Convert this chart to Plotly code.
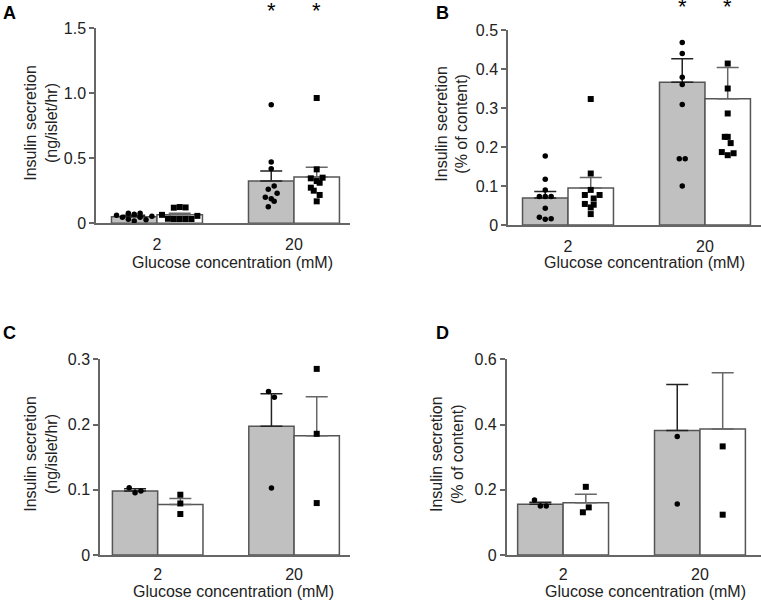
import plotly.graph_objects as go

W, H = 761, 601
FONT = "Liberation Sans, Arial, sans-serif"

categories = ["2", "20"]

# ---- Panel A: insulin secretion (ng/islet/hr)
a_bar_grey = [0.051, 0.325]
a_sem_grey = [0.010, 0.077]
a_bar_white = [0.066, 0.356]
a_sem_white = [0.012, 0.075]
a_pts_grey_2 = [0.062, 0.046, 0.077, 0.031, 0.070, 0.018, 0.077, 0.046, 0.028, 0.055]
a_pts_grey_20 = [0.912, 0.472, 0.420, 0.287, 0.262, 0.231, 0.200, 0.189, 0.169, 0.128]
a_pts_white_2 = [0.120, 0.125, 0.122, 0.065, 0.057, 0.035, 0.033, 0.033, 0.033, 0.033]
a_pts_white_20 = [0.964, 0.415, 0.346, 0.351, 0.325, 0.312, 0.274, 0.251, 0.218, 0.169]
a_jit_grey_2 = [-6, -4, -2, -2, 0, 0, 2, 2, 4, 6]
a_jit_grey_20 = [0, 0, 0, 1, -1, 2, -2, 0, 1, -1]
a_jit_white_2 = [-2, 0, 2, -6, 6, -4, -2, 0, 2, 4]
a_jit_white_20 = [0, 0, -2, 2, 0, 1, -2, -1, 1, 0]

# ---- Panel B: insulin secretion (% of content)
b_bar_grey = [0.069, 0.366]
b_sem_grey = [0.017, 0.060]
b_bar_white = [0.095, 0.324]
b_sem_white = [0.027, 0.080]
b_pts_grey_2 = [0.177, 0.117, 0.090, 0.073, 0.073, 0.073, 0.043, 0.020, 0.015, 0.016]
b_pts_grey_20 = [0.468, 0.440, 0.379, 0.360, 0.309, 0.170, 0.170, 0.100]
b_pts_white_2 = [0.323, 0.132, 0.090, 0.077, 0.077, 0.068, 0.054, 0.052, 0.045, 0.028]
b_pts_white_20 = [0.414, 0.350, 0.286, 0.226, 0.226, 0.210, 0.187, 0.179, 0.184]
b_jit_grey_2 = [0, 0, 0, -2, 0, 2, 0, -2, 0, 2]
b_jit_grey_20 = [0, 0, 0, 0, 0, -1, 1, 0]
b_jit_white_2 = [0, 0, 0, -2, 3, 1, -2, 1, 0, 0]
b_jit_white_20 = [0, 0, 0, -1, 0, 1, -2, 0, 2]

# ---- Panel C: insulin secretion (ng/islet/hr)
c_bar_grey = [0.098, 0.1975]
c_sem_grey = [0.0035, 0.0495]
c_bar_white = [0.0776, 0.1827]
c_sem_white = [0.0092, 0.0597]
c_pts_grey_2 = [0.103, 0.0954, 0.098]
c_pts_grey_20 = [0.2507, 0.242, 0.1026]
c_pts_white_2 = [0.0924, 0.079, 0.0628]
c_pts_white_20 = [0.2853, 0.1858, 0.0796]
c_jit_grey_2 = [-2, 0, 2]
c_jit_grey_20 = [-1, 1, 0]
c_jit_white_2 = [0, 0, 0]
c_jit_white_20 = [0, 0, 0]

# ---- Panel D: insulin secretion (% of content)
d_bar_grey = [0.1554, 0.382]
d_sem_grey = [0.0061, 0.141]
d_bar_white = [0.1604, 0.386]
d_sem_white = [0.0256, 0.173]
d_pts_grey_2 = [0.1686, 0.150, 0.150]
d_pts_grey_20 = [0.363, 0.156]
d_pts_white_2 = [0.209, 0.146, 0.131]
d_pts_white_20 = [0.333, 0.1236]
d_jit_grey_2 = [-2, 0, 2]
d_jit_grey_20 = [0, 0]
d_jit_white_2 = [0, 1, -1]
d_jit_white_20 = [0, 0]

y_title_ng = "Insulin secretion<br>(ng/islet/hr)"
y_title_pct = "Insulin secretion<br>(% of content)"
x_title = "Glucose concentration (mM)"

a_ticks = [0, 0.5, 1.0, 1.5]
a_ticktext = ["0", "0.5", "1.0", "1.5"]
b_ticks = [0, 0.1, 0.2, 0.3, 0.4, 0.5]
b_ticktext = ["0", "0.1", "0.2", "0.3", "0.4", "0.5"]
c_ticks = [0, 0.1, 0.2, 0.3]
c_ticktext = ["0", "0.1", "0.2", "0.3"]
d_ticks = [0, 0.2, 0.4, 0.6]
d_ticktext = ["0", "0.2", "0.4", "0.6"]

# ---------------------------------------------------------------
BAR_W = 0.332
HALF = BAR_W / 2
JSTEP = 0.0215
GREY = "#c0c0c0"
EDGE = "#555555"

fig = go.Figure()

panels = [
    dict(ax="", bar_g=a_bar_grey, sem_g=a_sem_grey, bar_w=a_bar_white, sem_w=a_sem_white,
         pg=[a_pts_grey_2, a_pts_grey_20], pw=[a_pts_white_2, a_pts_white_20],
         jg=[a_jit_grey_2, a_jit_grey_20], jw=[a_jit_white_2, a_jit_white_20]),
    dict(ax="2", bar_g=b_bar_grey, sem_g=b_sem_grey, bar_w=b_bar_white, sem_w=b_sem_white,
         pg=[b_pts_grey_2, b_pts_grey_20], pw=[b_pts_white_2, b_pts_white_20],
         jg=[b_jit_grey_2, b_jit_grey_20], jw=[b_jit_white_2, b_jit_white_20]),
    dict(ax="3", bar_g=c_bar_grey, sem_g=c_sem_grey, bar_w=c_bar_white, sem_w=c_sem_white,
         pg=[c_pts_grey_2, c_pts_grey_20], pw=[c_pts_white_2, c_pts_white_20],
         jg=[c_jit_grey_2, c_jit_grey_20], jw=[c_jit_white_2, c_jit_white_20]),
    dict(ax="4", bar_g=d_bar_grey, sem_g=d_sem_grey, bar_w=d_bar_white, sem_w=d_sem_white,
         pg=[d_pts_grey_2, d_pts_grey_20], pw=[d_pts_white_2, d_pts_white_20],
         jg=[d_jit_grey_2, d_jit_grey_20], jw=[d_jit_white_2, d_jit_white_20]),
]

for p in panels:
    xa, ya = "x" + p["ax"], "y" + p["ax"]
    idx = list(range(len(categories)))
    fig.add_trace(go.Bar(
        x=[i - HALF for i in idx], y=p["bar_g"], width=BAR_W, xaxis=xa, yaxis=ya,
        marker=dict(color=GREY, line=dict(color=EDGE, width=1.5)),
        error_y=dict(type="data", symmetric=False, array=p["sem_g"],
                     arrayminus=[0] * len(idx), color="#222222", thickness=1.5, width=11),
        showlegend=False))
    fig.add_trace(go.Bar(
        x=[i + HALF for i in idx], y=p["bar_w"], width=BAR_W, xaxis=xa, yaxis=ya,
        marker=dict(color="white", line=dict(color=EDGE, width=1.5)),
        error_y=dict(type="data", symmetric=False, array=p["sem_w"],
                     arrayminus=[0] * len(idx), color="#666666", thickness=1.5, width=11),
        showlegend=False))
    for i in idx:
        fig.add_trace(go.Scatter(
            x=[i - HALF + j * JSTEP for j in p["jg"][i]], y=p["pg"][i], mode="markers",
            xaxis=xa, yaxis=ya, marker=dict(symbol="circle", size=5.5, color="black"),
            showlegend=False, cliponaxis=False))
        fig.add_trace(go.Scatter(
            x=[i + HALF + j * JSTEP for j in p["jw"][i]], y=p["pw"][i], mode="markers",
            xaxis=xa, yaxis=ya, marker=dict(symbol="square", size=6, color="black"),
            showlegend=False, cliponaxis=False))

fig.update_layout(barmode="overlay")


def px_x(v):
    return v / W


def px_y(v):
    return 1 - v / H


axis_common_x = dict(showline=True, linecolor="#666666", linewidth=1.5, showgrid=False,
                     zeroline=False, ticks="outside", tickcolor="rgba(0,0,0,0)",
                     tickvals=[0, 1], ticktext=categories, automargin=False,
                     tickfont=dict(family=FONT, size=16, color="#222222"))
axis_common_y = dict(showline=True, linecolor="#666666", linewidth=1.5, showgrid=False,
                     zeroline=False, ticks="outside", ticklen=5, tickcolor="#666666",
                     tickwidth=1.5, automargin=False,
                     tickfont=dict(family=FONT, size=16, color="#222222"))

fig.update_layout(
    xaxis=dict(domain=[px_x(96), px_x(350)], range=[-0.445, 1.409], anchor="y", ticklen=6, **axis_common_x),
    yaxis=dict(domain=[px_y(223.3), px_y(28.3)], range=[0, 1.5], anchor="x",
               tickvals=a_ticks, ticktext=a_ticktext, **axis_common_y),
    xaxis2=dict(domain=[px_x(508), 1.0], range=[-0.438, 1.409], anchor="y2", ticklen=6, **axis_common_x),
    yaxis2=dict(domain=[px_y(225), px_y(30)], range=[0, 0.5], anchor="x2",
                tickvals=b_ticks, ticktext=b_ticktext, **axis_common_y),
    xaxis3=dict(domain=[px_x(100), px_x(350)], range=[-0.423, 1.41], anchor="y3", ticklen=4, **axis_common_x),
    yaxis3=dict(domain=[px_y(555), px_y(359.3)], range=[0, 0.3], anchor="x3",
                tickvals=c_ticks, ticktext=c_ticktext, **axis_common_y),
    xaxis4=dict(domain=[px_x(506.7), 1.0], range=[-0.412, 1.446], anchor="y4", ticklen=4, **axis_common_x),
    yaxis4=dict(domain=[px_y(555), px_y(359.3)], range=[0, 0.6], anchor="x4",
                tickvals=d_ticks, ticktext=d_ticktext, **axis_common_y),
)

ann = []
# panel letters
for letter, lx, ly in [("A", 1, 1), ("B", 434, 1), ("C", 1, 321), ("D", 434, 321)]:
    ann.append(dict(text="<b>%s</b>" % letter, x=px_x(lx), y=px_y(ly), xref="paper", yref="paper",
                    xanchor="left", yanchor="top", showarrow=False,
                    font=dict(family=FONT, size=18, color="black")))
# y titles
for t, cx, cy in [(y_title_ng, 40.8, 123), (y_title_pct, 451.7, 124),
                  (y_title_ng, 40.8, 454), (y_title_pct, 447, 454)]:
    ann.append(dict(text=t, x=px_x(cx), y=px_y(cy), xref="paper", yref="paper",
                    xanchor="center", yanchor="middle", textangle=-90, showarrow=False,
                    font=dict(family=FONT, size=16, color="#222222")))
# x titles
for cx, cy in [(232, 262), (644.5, 262), (233.3, 591), (645.3, 591)]:
    ann.append(dict(text=x_title, x=px_x(cx), y=px_y(cy), xref="paper", yref="paper",
                    xanchor="center", yanchor="middle", showarrow=False,
                    font=dict(family=FONT, size=16, color="#222222")))
# significance stars
for xr, cy in [("x", 11), ("x2", 7)]:
    for xv in [1 - HALF, 1 + HALF]:
        ann.append(dict(text="*", x=xv, y=px_y(cy), xref=xr, yref="paper",
                        xanchor="center", yanchor="middle", showarrow=False,
                        font=dict(family=FONT, size=22, color="black")))

fig.update_layout(
    annotations=ann,
    width=W, height=H,
    margin=dict(l=0, r=0, t=0, b=0),
    paper_bgcolor="white", plot_bgcolor="white",
    font=dict(family=FONT),
)

fig.write_html("out.html", config={"displayModeBar": False},
               post_script="document.body.style.margin='0px';document.body.style.overflow='hidden';")
